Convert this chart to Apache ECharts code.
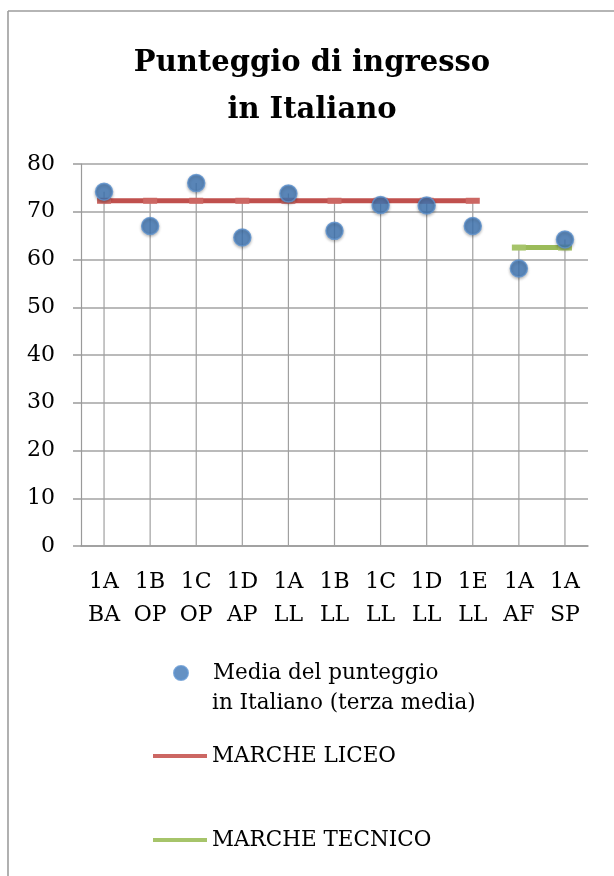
<!DOCTYPE html>
<html>
<head>
<meta charset="utf-8">
<script src="https://cdn.jsdelivr.net/npm/echarts@6/dist/echarts.min.js"></script>
<style>
  html, body { margin: 0; padding: 0; background: #fff; }
  #chart { width: 614px; height: 876px; }
</style>
</head>
<body>
<div id="chart"></div>
<script>
// categorie (classi)
const categories = ['1A\nBA', '1B\nOP', '1C\nOP', '1D\nAP', '1A\nLL', '1B\nLL', '1C\nLL', '1D\nLL', '1E\nLL', '1A\nAF', '1A\nSP'];
// media del punteggio in italiano (terza media)
const mediaItaliano = [74.2, 67.0, 76.0, 64.6, 73.8, 66.0, 71.4, 71.3, 67.0, 58.1, 64.2];
// riferimenti regionali
const marcheLiceo = [72.3, 72.3, 72.3, 72.3, 72.3, 72.3, 72.3, 72.3, 72.3, '-', '-'];
const marcheTecnico = ['-', '-', '-', '-', '-', '-', '-', '-', '-', 62.5, 62.5];
// asse y
const yMin = 0, yMax = 80, yStep = 10;

const serif = 'DejaVu Serif';

// linee di proiezione: dal valore piu alto della categoria fino all'asse
const dropLines = categories.map((c, i) => {
  const vals = [mediaItaliano[i], marcheLiceo[i], marcheTecnico[i]].filter(v => typeof v === 'number');
  return Math.max(...vals);
});

let myChart = echarts.init(document.getElementById('chart'));

let option = {
  backgroundColor: '#fff',
  animation: false,
  title: {
    text: 'Punteggio di ingresso\nin Italiano',
    left: 312,
    top: 40,
    padding: 0,
    textAlign: 'center',
    textStyle: {
      fontFamily: serif,
      fontWeight: 'bold',
      fontSize: 29,
      lineHeight: 47,
      color: '#000'
    }
  },
  grid: { left: 81, right: 26, top: 164, bottom: 330 },
  legend: [
    {
      data: ['Media del punteggio'],
      left: 173, top: 662,
      padding: 0,
      icon: 'circle',
      itemWidth: 14, itemHeight: 14,
      textStyle: { fontFamily: serif, fontSize: 21.5, color: '#000', padding: [0, 0, 0, 20] }
    },
    {
      data: ['MARCHE LICEO'],
      left: 153, top: 745,
      padding: 0,
      icon: 'rect',
      itemWidth: 54, itemHeight: 4,
      textStyle: { fontFamily: serif, fontSize: 21.5, color: '#000' }
    },
    {
      data: ['MARCHE TECNICO'],
      left: 153, top: 829,
      padding: 0,
      icon: 'rect',
      itemWidth: 54, itemHeight: 4,
      textStyle: { fontFamily: serif, fontSize: 21.5, color: '#000' }
    }
  ],
  xAxis: {
    type: 'category',
    data: categories,
    axisLine: { lineStyle: { color: '#9a9a9a', width: 1.5 } },
    axisTick: { show: false },
    axisLabel: {
      interval: 0,
      margin: 20,
      fontFamily: serif,
      fontSize: 22,
      lineHeight: 33,
      color: '#000'
    }
  },
  yAxis: {
    type: 'value',
    min: yMin,
    max: yMax,
    interval: yStep,
    axisLine: { show: true, lineStyle: { color: '#9a9a9a', width: 1.2 } },
    axisTick: { show: true, length: 8, lineStyle: { color: '#9a9a9a', width: 1.5 } },
    splitLine: { lineStyle: { color: '#a3a3a3', width: 1.6 } },
    axisLabel: {
      margin: 26,
      fontFamily: serif,
      fontSize: 22,
      color: '#000'
    }
  },
  graphic: [
    { type: 'line', shape: { x1: 8, y1: 11, x2: 614, y2: 11 }, style: { stroke: '#9d9d9d', lineWidth: 1.6 } },
    { type: 'line', shape: { x1: 8, y1: 11, x2: 8, y2: 876 }, style: { stroke: '#9d9d9d', lineWidth: 1.6 } },
    {
      type: 'text', x: 212, y: 703,
      style: { text: 'in Italiano (terza media)', font: '21.5px "DejaVu Serif"', fill: '#000', verticalAlign: 'middle' }
    }
  ],
  series: [
    {
      name: 'drop',
      type: 'bar',
      data: dropLines,
      barWidth: 1.2,
      silent: true,
      itemStyle: { color: '#a0a0a0' },
      z: 1
    },
    {
      name: 'MARCHE LICEO',
      type: 'line',
      data: marcheLiceo,
      symbol: 'rect',
      symbolSize: [14, 6],
      showSymbol: true,
      lineStyle: { color: '#C0504D', width: 5 },
      itemStyle: { color: '#CC6763' },
      z: 3
    },
    {
      name: 'MARCHE TECNICO',
      type: 'line',
      data: marcheTecnico,
      symbol: 'rect',
      symbolSize: [14, 6],
      showSymbol: true,
      lineStyle: { color: '#9BBB59', width: 5 },
      itemStyle: { color: '#A6C46A' },
      z: 3
    },
    {
      name: 'Media del punteggio',
      type: 'scatter',
      data: mediaItaliano,
      symbol: 'circle',
      symbolSize: 17,
      itemStyle: {
        color: '#3F75B4',
        borderColor: '#5E92CE',
        borderWidth: 1.5,
        shadowBlur: 3,
        shadowOffsetY: 1.5,
        shadowColor: 'rgba(0,0,0,0.3)'
      },
      z: 4
    }
  ]
};

myChart.setOption(option);
</script>
</body>
</html>
